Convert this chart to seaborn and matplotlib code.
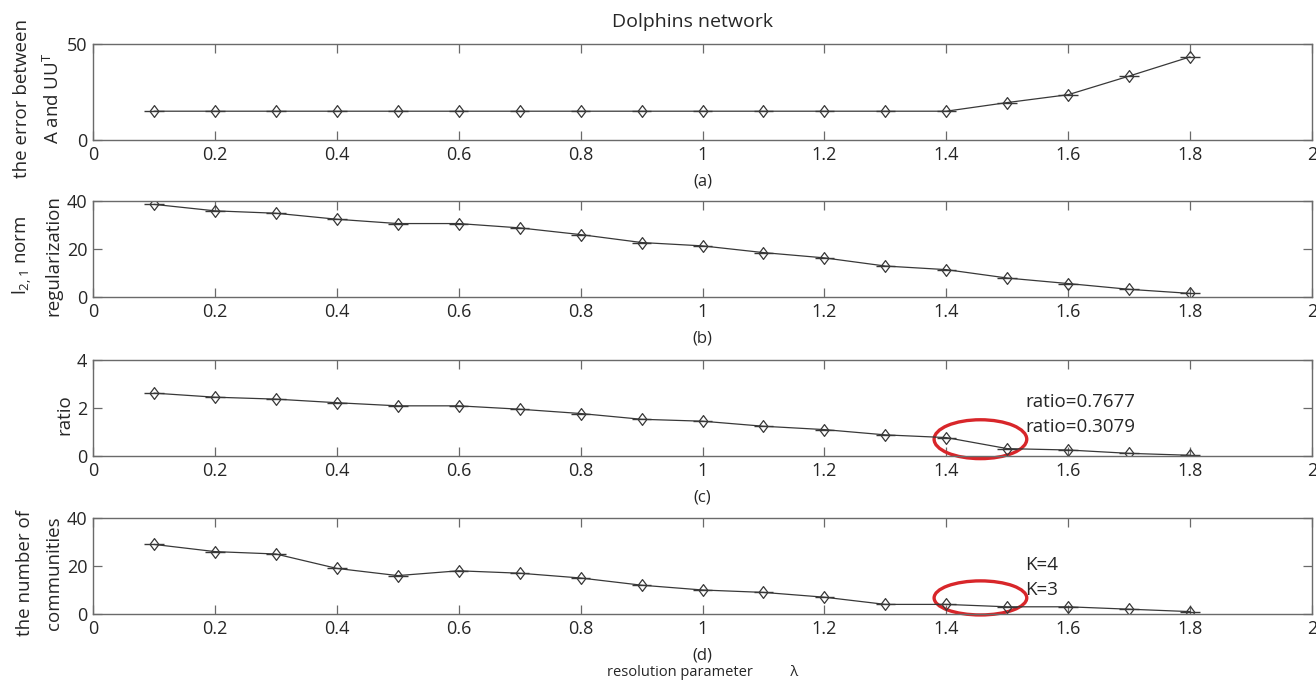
import matplotlib
matplotlib.use("Agg")
import matplotlib.pyplot as plt
from matplotlib.patches import Ellipse
import numpy as np
import pandas as pd
import seaborn as sns

# resolution parameter values
lam = [0.1, 0.2, 0.3, 0.4, 0.5, 0.6, 0.7, 0.8, 0.9, 1.0,
       1.1, 1.2, 1.3, 1.4, 1.5, 1.6, 1.7, 1.8]

# (a) reconstruction error ||A - UU^T||
err_vals = [15, 15, 15, 15, 15, 15, 15, 15, 15, 15,
            15, 15, 15, 15, 19.5, 23.6, 33.3, 43.3]
# (b) l_{2,1} norm regularization
l21_vals = [38.6, 35.9, 34.9, 32.4, 30.6, 30.6, 28.8, 26.0, 22.7, 21.3,
            18.5, 16.3, 12.9, 11.4, 7.9, 5.6, 3.2, 1.5]
# (c) ratio
ratio_vals = [2.62, 2.45, 2.37, 2.22, 2.09, 2.09, 1.95, 1.77, 1.53, 1.45,
              1.24, 1.10, 0.88, 0.7677, 0.3079, 0.25, 0.11, 0.03]
# (d) number of communities
comm_vals = [29, 26, 25, 19, 16, 18, 17, 15, 12, 10,
             9, 7, 4, 4, 3, 3, 2, 1]

x_ticks = [0, 0.2, 0.4, 0.6, 0.8, 1.0, 1.2, 1.4, 1.6, 1.8, 2.0]
x_ticklabels = ["0", "0.2", "0.4", "0.6", "0.8", "1", "1.2", "1.4", "1.6", "1.8", "2"]

panels = [
    ("the error between\nA and UU$^{T}$", err_vals, (0, 50), [0, 50], "(a)"),
    ("l$_{2,1}$ norm\nregularization", l21_vals, (0, 40), [0, 20, 40], "(b)"),
    ("ratio", ratio_vals, (0, 4), [0, 2, 4], "(c)"),
    ("the number of\ncommunities", comm_vals, (0, 40), [0, 20, 40], "(d)"),
]

sns.set_theme(style="ticks")
plt.rcParams["font.family"] = ["Open Sans", "DejaVu Sans"]
plt.rcParams["mathtext.fontset"] = "custom"
plt.rcParams["mathtext.rm"] = "Open Sans"
plt.rcParams["mathtext.it"] = "Open Sans"

AX_COLOR = "#6a6a6a"
LINE_COLOR = "#383838"
TEXT_COLOR = "#262626"

# open diamond, a little taller than wide
diamond = [(-0.75, 0.0), (0.0, 1.0), (0.75, 0.0), (0.0, -1.0), (-0.75, 0.0)]

fig = plt.figure(figsize=(13.16, 6.83), dpi=100)
left, width, height = 93 / 1316, 1219 / 1316, 96 / 683
bottoms = [1 - 140 / 683, 1 - 297 / 683, 1 - 456 / 683, 1 - 614 / 683]

axes = []
for (ylab, vals, ylim, yticks, tag), b in zip(panels, bottoms):
    ax = fig.add_axes([left, b, width, height])
    df = pd.DataFrame({"lam": lam, "val": vals})
    ax.errorbar(df["lam"], df["val"], xerr=0.016, fmt="none",
                ecolor=LINE_COLOR, elinewidth=1.0, capsize=0)
    sns.lineplot(data=df, x="lam", y="val", ax=ax, color=LINE_COLOR,
                 linewidth=0.9, marker=diamond, markersize=8.5,
                 markerfacecolor="none", markeredgecolor=LINE_COLOR,
                 markeredgewidth=0.9)
    ax.set_xlim(0, 2)
    ax.set_ylim(*ylim)
    ax.set_xticks(x_ticks)
    ax.set_xticklabels(x_ticklabels)
    ax.set_yticks(yticks)
    ax.tick_params(axis="both", direction="in", length=6.5, width=0.9,
                   color=AX_COLOR, labelsize=13, labelcolor=TEXT_COLOR,
                   top=True, right=True, pad=4)
    for s in ax.spines.values():
        s.set_color(AX_COLOR)
        s.set_linewidth(1.0)
    ax.set_ylabel(ylab, fontsize=13.5, color=TEXT_COLOR, labelpad=3,
                  linespacing=1.75)
    ax.yaxis.label.set_y(0.43)
    ax.set_xlabel(tag, fontsize=12, color=TEXT_COLOR, labelpad=7)
    axes.append(ax)

axes[0].set_title("Dolphins network", fontsize=14, color=TEXT_COLOR,
                  pad=12, x=0.492)

# highlighted transition between lambda = 1.4 and 1.5
red = "#d8262a"
axes[2].add_patch(Ellipse((1.456, 0.7), 0.152, 1.62, fill=False,
                          edgecolor=red, linewidth=2.4, clip_on=False))
axes[3].add_patch(Ellipse((1.456, 6.7), 0.152, 14.2, fill=False,
                          edgecolor=red, linewidth=2.4, clip_on=False))

axes[2].text(1.53, 2.26, f"ratio={ratio_vals[13]:.4f}", fontsize=13.5,
             color=TEXT_COLOR, va="center", ha="left")
axes[2].text(1.53, 1.21, f"ratio={ratio_vals[14]:.4f}", fontsize=13.5,
             color=TEXT_COLOR, va="center", ha="left")
axes[3].text(1.53, 20.4, f"K={comm_vals[13]}", fontsize=13.5,
             color=TEXT_COLOR, va="center", ha="left")
axes[3].text(1.53, 10.1, f"K={comm_vals[14]}", fontsize=13.5,
             color=TEXT_COLOR, va="center", ha="left")

fig.text(left + width / 2, 1 - 673 / 683, "resolution parameter          \u03bb",
         ha="center", va="center", fontsize=10.5, color=TEXT_COLOR)

fig.savefig("out.png", dpi=100)
